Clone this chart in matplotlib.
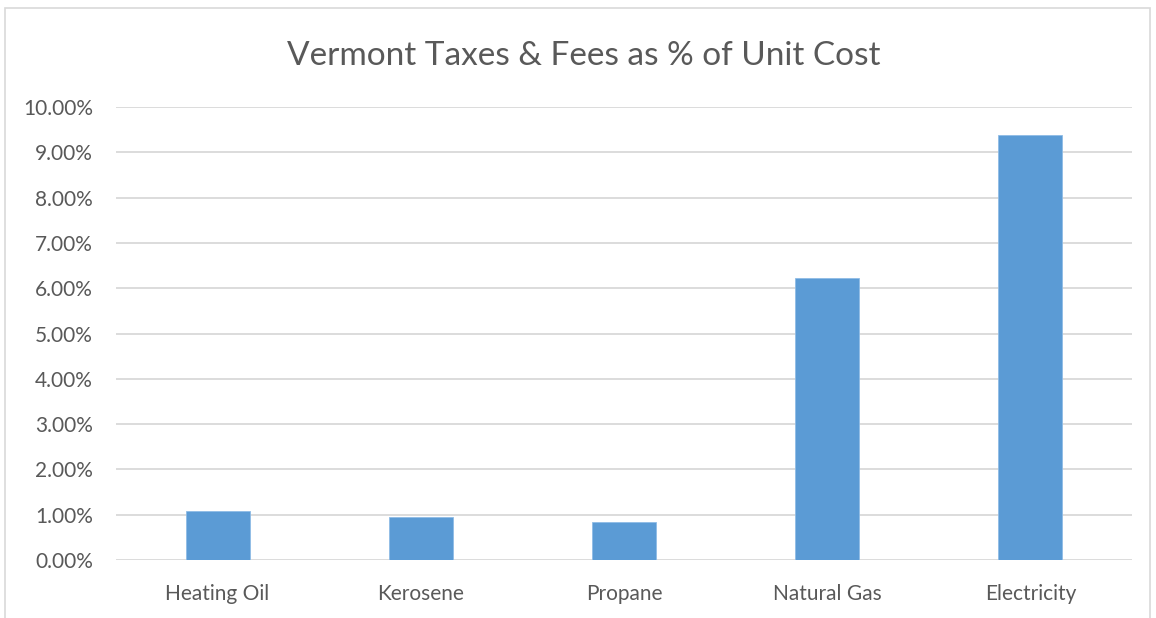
import matplotlib
matplotlib.use("Agg")
import matplotlib.pyplot as plt
from matplotlib.ticker import FuncFormatter
from matplotlib.patches import Rectangle

categories = ["Heating Oil", "Kerosene", "Propane", "Natural Gas", "Electricity"]
values = [0.0108, 0.0094, 0.0083, 0.0622, 0.0938]
yticks = [i / 100 for i in range(0, 11)]

plt.rcParams['font.family'] = ['Lato', 'DejaVu Sans']
W, H = 1156, 618
fig = plt.figure(figsize=(W / 100, H / 100), dpi=100)
fig.patch.set_facecolor('white')

# chart border
fig.add_artist(Rectangle((5 / W, -0.01), (1150 - 5) / W, (H - 8) / H + 0.01,
                         transform=fig.transFigure, fill=False,
                         edgecolor='#D9D9D9', linewidth=1.2))

left, right, top, bottom = 116, 1132, 107, 560
ax = fig.add_axes([left / W, 1 - bottom / H, (right - left) / W, (bottom - top) / H])

x = range(len(categories))
ax.bar(x, values, width=0.315, color='#5B9BD5', edgecolor='#8FBCE6', linewidth=0.6, zorder=3)

ax.set_xlim(-0.5, len(categories) - 0.5)
ax.set_ylim(0, 0.10)
ax.set_yticks(yticks)
ax.yaxis.set_major_formatter(FuncFormatter(lambda v, p: f"{v * 100:.2f}%"))
ax.set_xticks(list(x))
ax.set_xticklabels(categories)

ax.grid(axis='y', color='#D9D9D9', linewidth=1.3, zorder=0)
for s in ax.spines.values():
    s.set_visible(False)
ax.tick_params(axis='both', length=0, colors='#595959', labelsize=15)
ax.tick_params(axis='y', pad=16.5)
ax.tick_params(axis='x', pad=17)

fig.text(584 / W, 1 - 56 / H, "Vermont Taxes & Fees as % of Unit Cost", ha='center', va='center',
         fontsize=24, color='#595959')

fig.savefig("out.png", dpi=100, facecolor='white')
